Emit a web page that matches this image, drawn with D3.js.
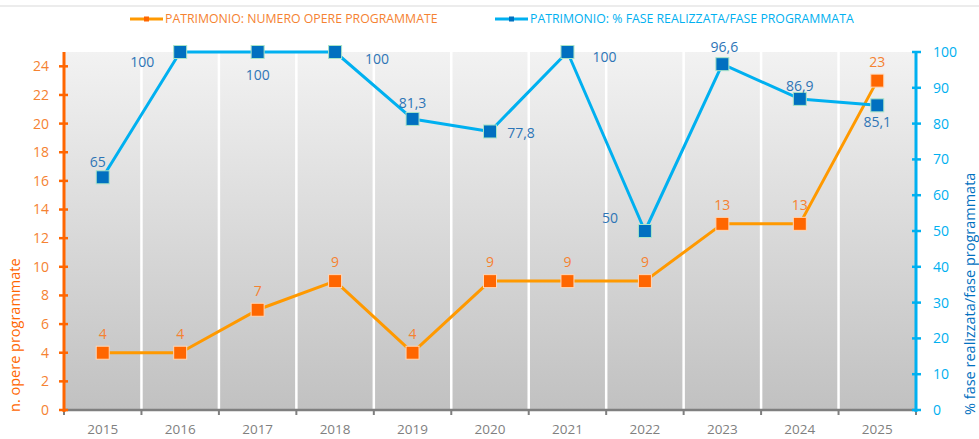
<!DOCTYPE html>
<html>
<head>
<meta charset="utf-8">
<script src="https://cdn.jsdelivr.net/npm/d3@7"></script>
<style>
  body { margin: 0; background: #fff; }
  svg { display: block; font-family: "Open Sans", "Noto Sans", sans-serif; }
</style>
</head>
<body>
<svg id="chart"></svg>
<script>
const years = ["2015","2016","2017","2018","2019","2020","2021","2022","2023","2024","2025"];
const opere = [4, 4, 7, 9, 4, 9, 9, 9, 13, 13, 23];
const percFase = [65, 100, 100, 100, 81.3, 77.8, 100, 50, 96.6, 86.9, 85.1];
const leftTicks = [0,2,4,6,8,10,12,14,16,18,20,22,24];
const rightTicks = [0,10,20,30,40,50,60,70,80,90,100];
const legendNames = ["PATRIMONIO: NUMERO OPERE PROGRAMMATE", "PATRIMONIO: % FASE REALIZZATA/FASE PROGRAMMATA"];

// label placement tweaks for the blue series (dx, dy from marker)
const blueLabelOffset = [[-5,-15],[-38,10],[0,23],[42,7],[0,-16],[31,2],[37,5],[-35,-13],[2,-17],[0,-13],[0,17]];

const width = 979, height = 439;
const margin = { top: 52, right: 63, bottom: 29, left: 64 };

const svg = d3.select("#chart").attr("width", width).attr("height", height);

const x = d3.scaleBand().domain(years).range([margin.left, width - margin.right]).padding(0);
const yL = d3.scaleLinear().domain([0, 25]).range([height - margin.bottom, margin.top]);
const yR = d3.scaleLinear().domain([0, 100]).range([height - margin.bottom, margin.top]);

const orangeAxis = "#FF6600", orangeLine = "#FF9900", orangeText = "#F58231";
const blueAxis = "#00B0F0", blueMarker = "#0070C0", blueText = "#2E75B6";

// top border line
svg.append("line").attr("x1", 0).attr("x2", width).attr("y1", 6).attr("y2", 6)
  .attr("stroke", "#d9d9d9").attr("stroke-width", 1);

// gradient background
const grad = svg.append("defs").append("linearGradient")
  .attr("id", "bg").attr("x1", 0).attr("x2", 0).attr("y1", 0).attr("y2", 1);
grad.append("stop").attr("offset", "0%").attr("stop-color", "#f2f2f2");
grad.append("stop").attr("offset", "100%").attr("stop-color", "#c1c1c1");

svg.append("rect")
  .attr("x", margin.left).attr("y", yL(25))
  .attr("width", x.range()[1] - margin.left)
  .attr("height", yL(0) - yL(25))
  .attr("fill", "url(#bg)");

// white vertical separators
svg.append("g").selectAll("line")
  .data(years.slice(1))
  .join("line")
  .attr("x1", d => x(d)).attr("x2", d => x(d))
  .attr("y1", yL(25)).attr("y2", yL(0))
  .attr("stroke", "#ffffff").attr("stroke-width", 2.5);

// x axis
const xAxis = svg.append("g").attr("transform", `translate(0,${yL(0)})`);
xAxis.append("line").attr("x1", margin.left).attr("x2", x.range()[1])
  .attr("stroke", "#7f7f7f").attr("stroke-width", 2.5);
xAxis.selectAll("line.tk")
  .data(years.concat(["end"]))
  .join("line").attr("class", "tk")
  .attr("x1", (d, i) => i < years.length ? x(d) : x.range()[1])
  .attr("x2", (d, i) => i < years.length ? x(d) : x.range()[1])
  .attr("y1", 0).attr("y2", 5)
  .attr("stroke", "#7f7f7f").attr("stroke-width", 2);
xAxis.selectAll("text")
  .data(years)
  .join("text")
  .attr("x", d => x(d) + x.bandwidth() / 2)
  .attr("y", 24)
  .attr("text-anchor", "middle")
  .attr("fill", "#7f7f7f")
  .attr("font-size", 13.5)
  .text(d => d);

// left axis
const lAxis = svg.append("g");
lAxis.append("line").attr("x1", margin.left).attr("x2", margin.left)
  .attr("y1", yL(25)).attr("y2", yL(0) + 2)
  .attr("stroke", orangeAxis).attr("stroke-width", 3);
lAxis.selectAll("line.tk").data(leftTicks).join("line").attr("class", "tk")
  .attr("x1", margin.left - 5).attr("x2", margin.left + 4)
  .attr("y1", d => yL(d)).attr("y2", d => yL(d))
  .attr("stroke", orangeAxis).attr("stroke-width", 2.5);
lAxis.selectAll("text").data(leftTicks).join("text")
  .attr("x", margin.left - 15).attr("y", d => yL(d))
  .attr("dy", "0.35em").attr("text-anchor", "end")
  .attr("fill", orangeText).attr("font-size", 14)
  .text(d => d);

// right axis
const rx = x.range()[1];
const rAxis = svg.append("g");
rAxis.append("line").attr("x1", rx).attr("x2", rx)
  .attr("y1", yR(100)).attr("y2", yR(0) + 2)
  .attr("stroke", blueAxis).attr("stroke-width", 3);
rAxis.selectAll("line.tk").data(rightTicks).join("line").attr("class", "tk")
  .attr("x1", rx - 4).attr("x2", rx + 5)
  .attr("y1", d => yR(d)).attr("y2", d => yR(d))
  .attr("stroke", blueAxis).attr("stroke-width", 2.5);
rAxis.selectAll("text").data(rightTicks).join("text")
  .attr("x", rx + 17).attr("y", d => yR(d))
  .attr("dy", "0.35em").attr("text-anchor", "start")
  .attr("fill", blueAxis).attr("font-size", 14)
  .text(d => d);

// axis titles
svg.append("text")
  .attr("transform", `translate(20,${yL(0) + 2}) rotate(-90)`)
  .attr("text-anchor", "start")
  .attr("fill", orangeAxis).attr("font-size", 14.5)
  .text("n. opere programmate");
svg.append("text")
  .attr("transform", `translate(975,${yL(0) + 5}) rotate(-90)`)
  .attr("text-anchor", "start")
  .attr("fill", blueMarker).attr("font-size", 14.5)
  .text("% fase realizzata/fase programmata");

const cx = d => x(d) + x.bandwidth() / 2;

// orange series
const lineL = d3.line().x((d, i) => cx(years[i])).y(d => yL(d));
svg.append("path").datum(opere)
  .attr("fill", "none").attr("stroke", orangeLine).attr("stroke-width", 3)
  .attr("stroke-linejoin", "round")
  .attr("d", lineL);

// blue series
const lineR = d3.line().x((d, i) => cx(years[i])).y(d => yR(d));
svg.append("path").datum(percFase)
  .attr("fill", "none").attr("stroke", blueAxis).attr("stroke-width", 3)
  .attr("stroke-linejoin", "round")
  .attr("d", lineR);

const ms = 13;
svg.append("g").selectAll("rect").data(opere).join("rect")
  .attr("x", (d, i) => cx(years[i]) - ms / 2)
  .attr("y", d => yL(d) - ms / 2)
  .attr("width", ms).attr("height", ms)
  .attr("fill", orangeAxis).attr("stroke", "#ffd8b8").attr("stroke-width", 1);

svg.append("g").selectAll("rect").data(percFase).join("rect")
  .attr("x", (d, i) => cx(years[i]) - ms / 2)
  .attr("y", d => yR(d) - ms / 2)
  .attr("width", ms).attr("height", ms)
  .attr("fill", blueMarker).attr("stroke", "#a9e5c8").attr("stroke-width", 1);

// data labels
const fmt = d => String(d).replace(".", ",");
svg.append("g").selectAll("text").data(opere).join("text")
  .attr("x", (d, i) => cx(years[i]))
  .attr("y", d => yL(d) - 19)
  .attr("dy", "0.35em").attr("text-anchor", "middle")
  .attr("fill", orangeText).attr("font-size", 14)
  .text(fmt);

svg.append("g").selectAll("text").data(percFase).join("text")
  .attr("x", (d, i) => cx(years[i]) + blueLabelOffset[i][0])
  .attr("y", (d, i) => yR(d) + blueLabelOffset[i][1])
  .attr("dy", "0.35em").attr("text-anchor", "middle")
  .attr("fill", blueText).attr("font-size", 14)
  .text(fmt);

// legend
const legend = [
  { x: 130, color: orangeLine, mk: orangeAxis, text: orangeText },
  { x: 495, color: blueAxis, mk: blueMarker, text: blueAxis }
];
legend.forEach((l, i) => {
  const g = svg.append("g").attr("transform", `translate(${l.x},19)`);
  g.append("line").attr("x1", 0).attr("x2", 33).attr("stroke", l.color).attr("stroke-width", 3);
  g.append("rect").attr("x", 14).attr("y", -2.5).attr("width", 5).attr("height", 5).attr("fill", l.mk);
  g.append("text").attr("x", 35).attr("dy", "0.35em")
    .attr("fill", l.text).attr("font-size", 12.3)
    .text(legendNames[i]);
});
</script>
</body>
</html>
